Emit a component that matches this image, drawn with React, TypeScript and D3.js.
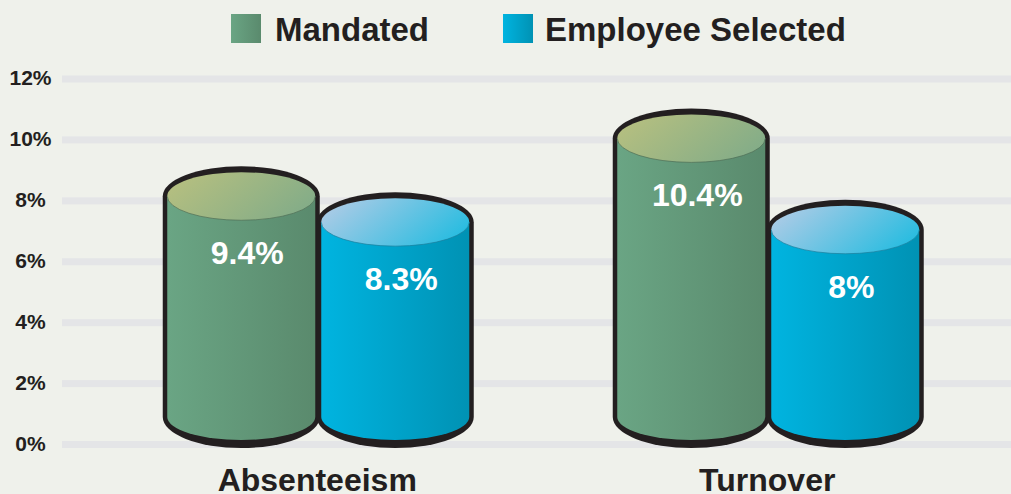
import React from "react";
import * as d3 from "d3";

const W = 1011;
const H = 494;

const categories = ["Absenteeism", "Turnover"];
const seriesNames = ["Mandated", "Employee Selected"];
// printed value labels
const mandatedLabels = ["9.4%", "10.4%"];
const employeeLabels = ["8.3%", "8%"];
// cylinder top levels (%)
const mandatedLevels = [8.15, 10.05];
const employeeLevels = [7.3, 7.05];
const yTicks = [0, 2, 4, 6, 8, 10, 12];

const TEXT = "#231f20";
const FONT = "'Liberation Sans', Arial, Helvetica, sans-serif";

export default function App() {
  const y = d3.scaleLinear().domain([0, 12]).range([444.5, 79]);
  const x0 = d3.scaleBand<string>().domain(categories).range([93.25, 993.25]);
  const inner = 308;
  const x1 = d3
    .scaleBand<string>()
    .domain(seriesNames)
    .range([(x0.bandwidth() - inner) / 2, (x0.bandwidth() + inner) / 2]);

  const rx = 74;
  const RX = 78.5;
  const ryFace = 24;
  const ryTopOuter = 30;
  const ryBot = 23;
  const ryBotOuter = 31;
  const yBottom = y(0) - 27.5;

  const cyl = (cx: number, yT: number, kind: "m" | "e", label: string, key: string) => {
    const sil = `M${cx - RX},${yT} A${RX},${ryTopOuter} 0 0 1 ${cx + RX},${yT} L${cx + RX},${yBottom} A${RX},${ryBotOuter} 0 0 1 ${cx - RX},${yBottom} Z`;
    const body = `M${cx - rx},${yT} L${cx - rx},${yBottom} A${rx},${ryBot} 0 0 0 ${cx + rx},${yBottom} L${cx + rx},${yT} Z`;
    const faceEdge = `M${cx - rx},${yT} A${rx},${ryFace} 0 0 0 ${cx + rx},${yT}`;
    return (
      <g key={key}>
        <path d={sil} fill={TEXT} />
        <path d={body} fill={`url(#side-${kind})`} />
        <ellipse cx={cx} cy={yT} rx={rx} ry={ryFace} fill={`url(#top-${kind})`} />
        <path d={faceEdge} fill="none" stroke={kind === "m" ? "#4e6e55" : "#1b7f9c"} strokeWidth={1} opacity={0.7} />
        <text
          x={cx + 6}
          y={yT + 68}
          textAnchor="middle"
          fill="#ffffff"
          fontFamily={FONT}
          fontWeight="bold"
          fontSize={32}
        >
          {label}
        </text>
      </g>
    );
  };

  return (
    <svg
      width={W}
      height={H}
      style={{ position: "absolute", left: 0, top: 0, display: "block" }}
    >
      <defs>
        <linearGradient id="side-m" x1="0" x2="1" y1="0" y2="0">
          <stop offset="0" stopColor="#6aa584" />
          <stop offset="1" stopColor="#5a8a6d" />
        </linearGradient>
        <linearGradient id="side-e" x1="0" x2="1" y1="0" y2="0">
          <stop offset="0" stopColor="#00b4e0" />
          <stop offset="1" stopColor="#0092b4" />
        </linearGradient>
        <linearGradient id="top-m" x1="0" x2="1" y1="0.3" y2="0.7">
          <stop offset="0" stopColor="#b5bf80" />
          <stop offset="1" stopColor="#82ac88" />
        </linearGradient>
        <linearGradient id="top-e" x1="0" x2="1" y1="0.3" y2="0.7">
          <stop offset="0" stopColor="#abcbe6" />
          <stop offset="1" stopColor="#25bce0" />
        </linearGradient>
        <linearGradient id="sw-m" x1="0" x2="1" y1="0" y2="0">
          <stop offset="0" stopColor="#6aa584" />
          <stop offset="1" stopColor="#5a8a6d" />
        </linearGradient>
        <linearGradient id="sw-e" x1="0" x2="1" y1="0" y2="0">
          <stop offset="0" stopColor="#00b4e0" />
          <stop offset="1" stopColor="#0092b4" />
        </linearGradient>
      </defs>
      <rect x={0} y={0} width={W} height={H} fill="#eff1eb" />

      {/* grid + y labels */}
      {yTicks.map((t) => (
        <g key={t}>
          <rect x={62} y={y(t) - 3.5} width={W - 62} height={7} fill="#e4e5e7" />
          <text
            x={30.5}
            y={y(t) + 6}
            textAnchor="middle"
            fill={TEXT}
            fontFamily={FONT}
            fontWeight="bold"
            fontSize={21}
          >
            {t}%
          </text>
        </g>
      ))}

      {/* legend */}
      <rect x={231} y={14} width={30} height={29} fill="url(#sw-m)" />
      <text x={275} y={41} fill={TEXT} fontFamily={FONT} fontWeight="bold" fontSize={33}>
        {seriesNames[0]}
      </text>
      <rect x={503} y={14} width={30} height={29} fill="url(#sw-e)" />
      <text x={545} y={41} fill={TEXT} fontFamily={FONT} fontWeight="bold" fontSize={33}>
        {seriesNames[1]}
      </text>

      {/* cylinders */}
      {categories.map((c, i) => {
        const base = x0(c)!;
        const cxM = base + x1(seriesNames[0])! + x1.bandwidth() / 2;
        const cxE = base + x1(seriesNames[1])! + x1.bandwidth() / 2;
        return (
          <g key={c}>
            {cyl(cxM, y(mandatedLevels[i]), "m", mandatedLabels[i], c + "m")}
            {cyl(cxE, y(employeeLevels[i]), "e", employeeLabels[i], c + "e")}
            <text
              x={base + x0.bandwidth() / 2 - 1}
              y={491}
              textAnchor="middle"
              fill={TEXT}
              fontFamily={FONT}
              fontWeight="bold"
              fontSize={32}
            >
              {c}
            </text>
          </g>
        );
      })}
    </svg>
  );
}
